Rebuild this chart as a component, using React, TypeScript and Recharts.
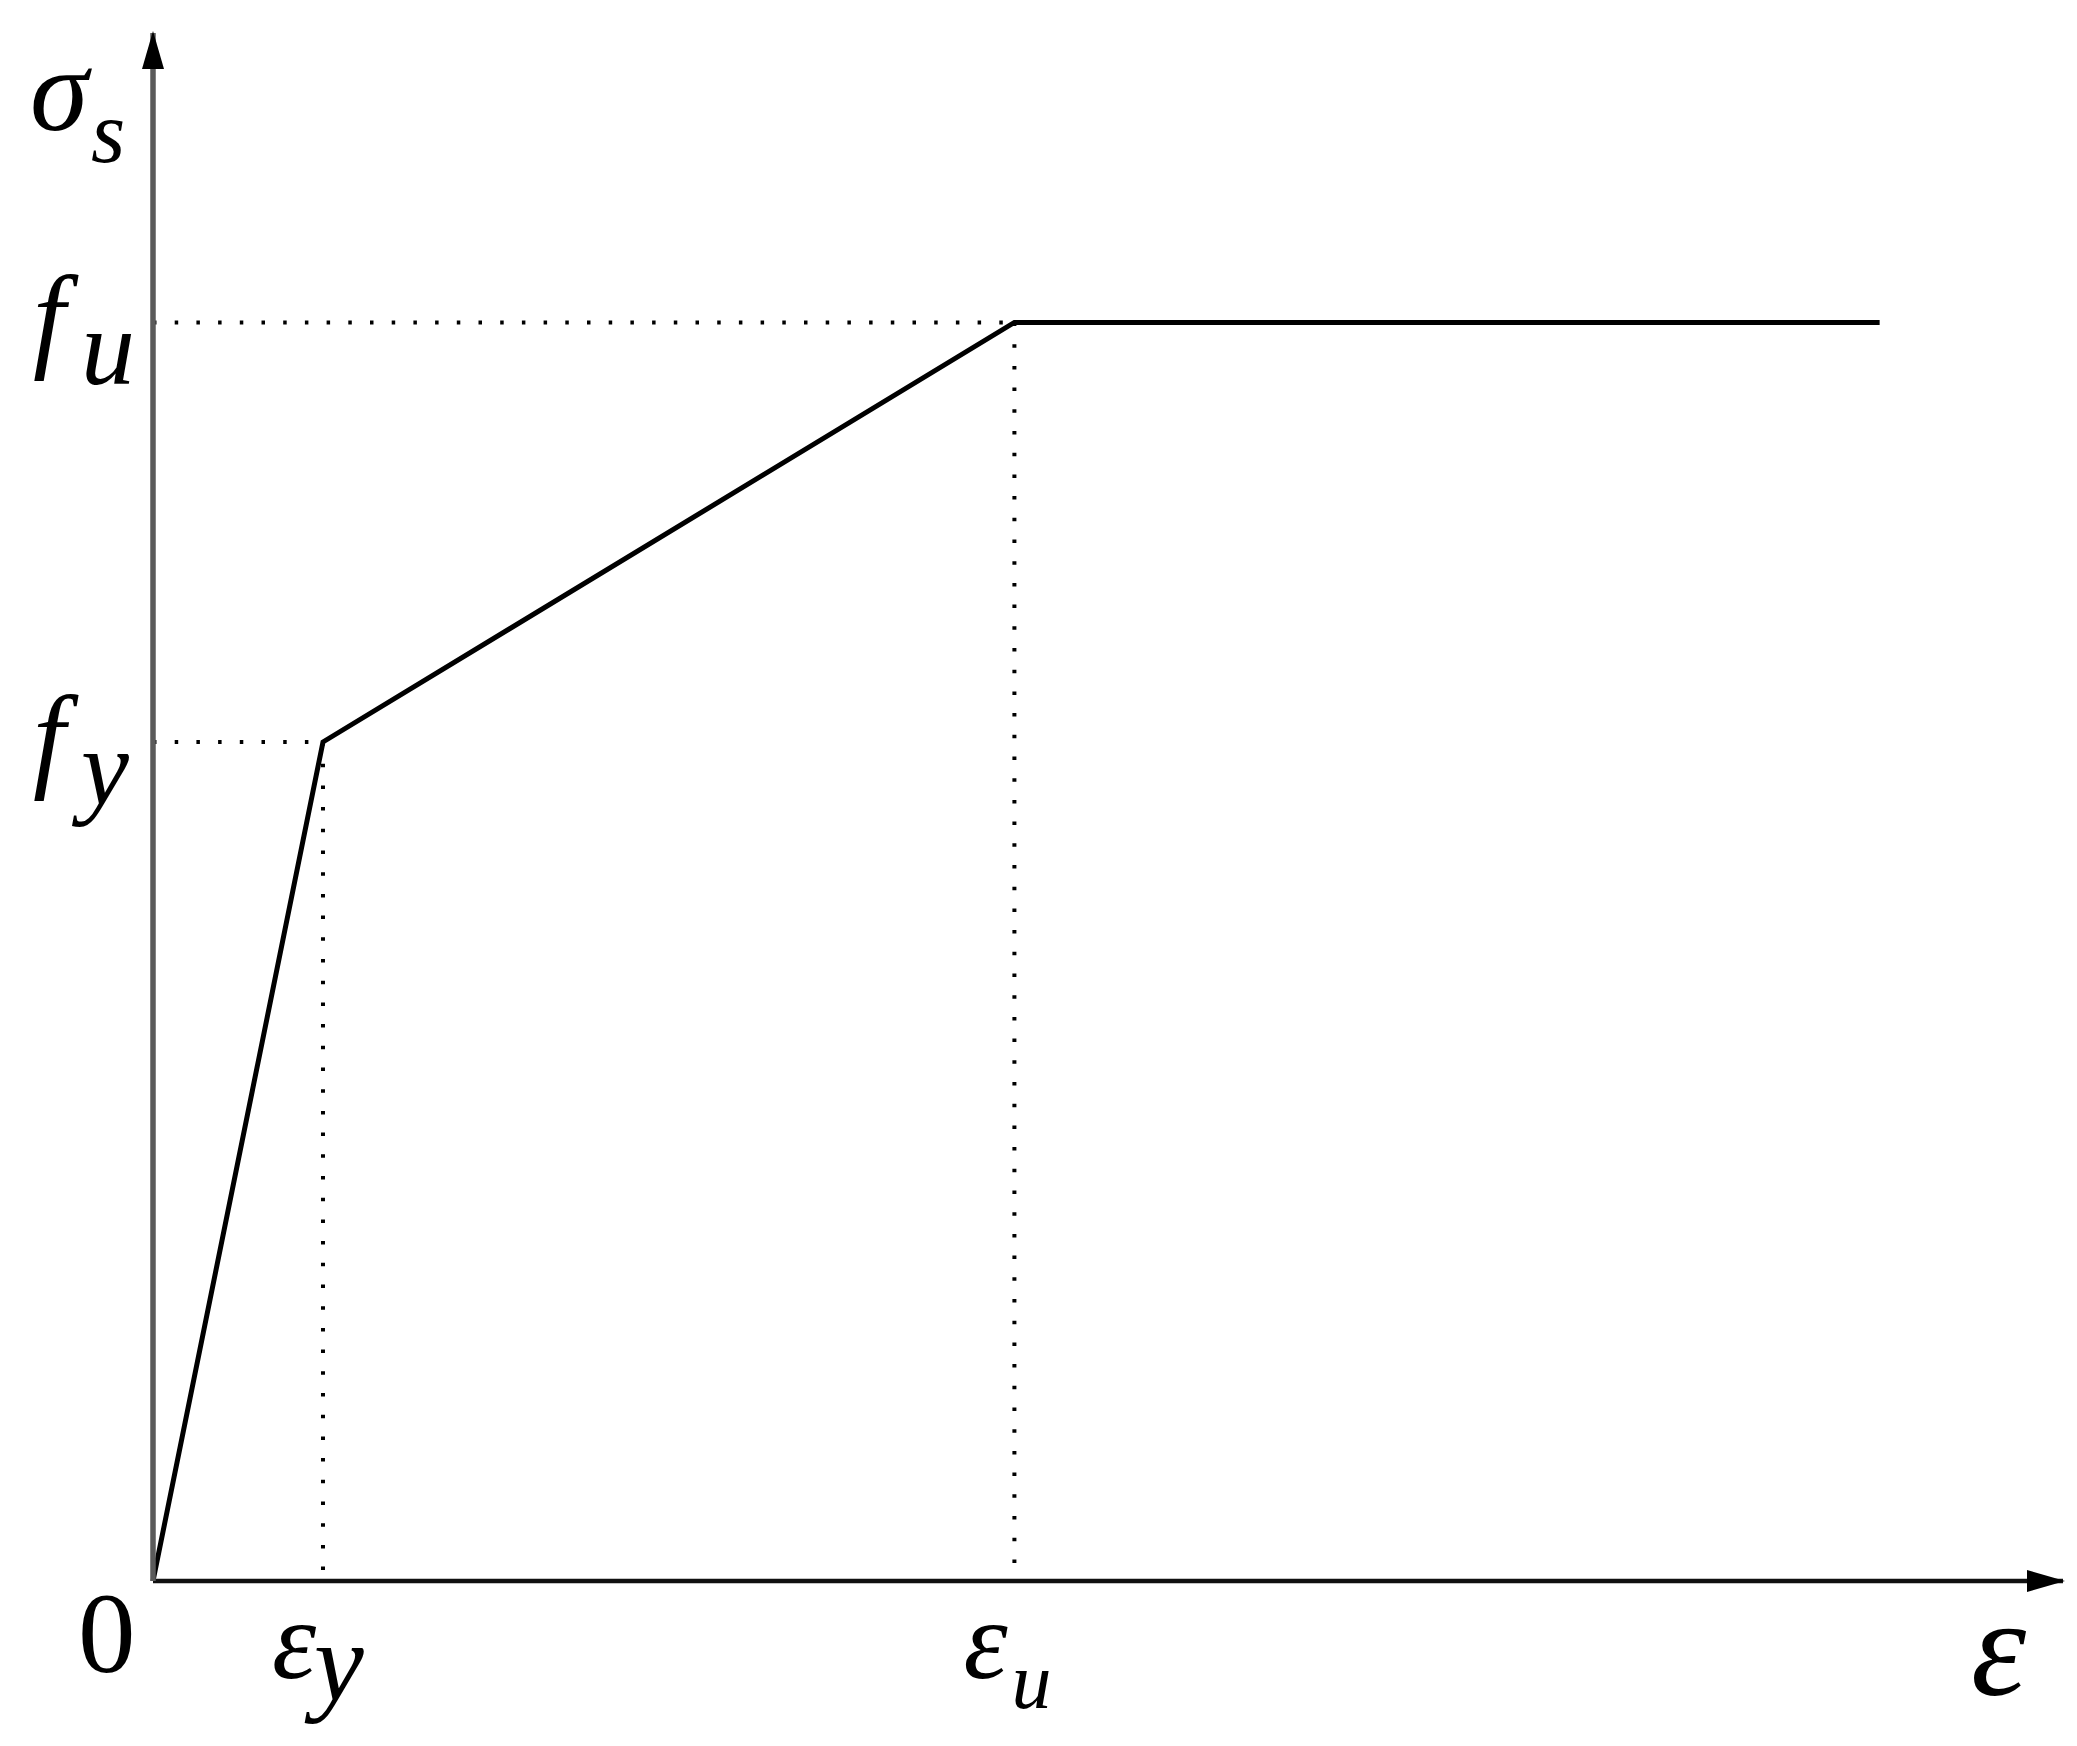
import { Label, Line, LineChart, ReferenceLine, XAxis, YAxis } from 'recharts';

// Schematic bilinear steel model, normalised units (0-100 on both axes)
const strain = [0, 8.9, 45.1, 90.4];
const stress = [0, 54.2, 81.3, 81.3];

const epsY = strain[1];
const epsU = strain[2];
const fY = stress[1];
const fU = stress[2];

const xTicks = [0, epsY, epsU];
const xTickMain = ['0', 'ε', 'ε'];
const xTickSub = ['', 'y', 'u'];

const yTicks = [fY, fU];
const yTickMain = ['f', 'f'];
const yTickSub = ['y', 'u'];

const chartData = strain.map((x, i) => ({ x, y: stress[i] }));

const serif = '"Liberation Serif", "DejaVu Serif", serif';
const dotted = { stroke: '#000', strokeWidth: 4, strokeDasharray: '3.5 18.2' };

function XTick({ x, y, index }: any) {
  if (index === 0) {
    return (
      <text x={x - 75} y={y + 91} fontFamily={serif} fontSize={115} fill="#000">
        {xTickMain[0]}
      </text>
    );
  }
  const big = index === 1;
  return (
    <text fontFamily={serif} fontStyle="italic" fill="#000">
      <tspan x={x - 51} y={y + 97} fontSize={112}>
        {xTickMain[index]}
      </tspan>
      <tspan x={big ? x - 9 : x - 3} y={big ? y + 119 : y + 127} fontSize={big ? 112 : 80}>
        {xTickSub[index]}
      </tspan>
    </text>
  );
}

function YTick({ x, y, index }: any) {
  return (
    <text fontFamily={serif} fontStyle="italic" fill="#000">
      <tspan x={x - 120} y={y + 34} fontSize={116}>
        {yTickMain[index]}
      </tspan>
      <tspan x={x - 72} y={y + 62} fontSize={108}>
        {yTickSub[index]}
      </tspan>
    </text>
  );
}

export default function App() {
  return (
    <div style={{ position: 'absolute', left: 0, top: 0, background: '#fff' }}>
      <LineChart
        width={2077}
        height={1746}
        data={chartData}
        margin={{ top: 33, right: 14, bottom: 0, left: 0 }}
      >
        <defs>
          <marker
            id="arrow"
            viewBox="0 0 38 22"
            refX={36}
            refY={11}
            markerWidth={38}
            markerHeight={22}
            markerUnits="userSpaceOnUse"
            orient="auto-start-reverse"
          >
            <path d="M0,0 L38,11 L0,22 Z" fill="#000" />
          </marker>
        </defs>
        <XAxis
          type="number"
          dataKey="x"
          domain={[0, 100]}
          ticks={xTicks}
          interval={0}
          height={165}
          tickSize={0}
          tickMargin={0}
          tickLine={false}
          axisLine={{ stroke: '#111', strokeWidth: 4.5, markerEnd: 'url(#arrow)' }}
          tick={<XTick />}
        >
          <Label
            content={({ viewBox }: any) => (
              <text
                x={viewBox.x + viewBox.width - 92}
                y={viewBox.y + 114}
                fontFamily={serif}
                fontStyle="italic"
                fontSize={140}
                fill="#000"
              >
                ε
              </text>
            )}
          />
        </XAxis>
        <YAxis
          type="number"
          dataKey="y"
          domain={[0, 100]}
          ticks={yTicks}
          interval={0}
          width={153}
          tickSize={0}
          tickMargin={0}
          tickLine={false}
          axisLine={{ stroke: '#5a5a5a', strokeWidth: 5.5, markerStart: 'url(#arrow)' }}
          tick={<YTick />}
        >
          <Label
            content={({ viewBox }: any) => (
              <text fontFamily={serif} fontStyle="italic" fill="#000">
                <tspan x={viewBox.x + 30} y={viewBox.y + 97} fontSize={118}>
                  σ
                </tspan>
                <tspan x={viewBox.x + 91} y={viewBox.y + 129} fontSize={88}>
                  s
                </tspan>
              </text>
            )}
          />
        </YAxis>
        <ReferenceLine segment={[{ x: 0, y: fU }, { x: epsU, y: fU }]} {...dotted} />
        <ReferenceLine segment={[{ x: epsU, y: fU }, { x: epsU, y: 0 }]} {...dotted} />
        <ReferenceLine segment={[{ x: 0, y: fY }, { x: epsY, y: fY }]} {...dotted} />
        <ReferenceLine segment={[{ x: epsY, y: fY }, { x: epsY, y: 0 }]} {...dotted} />
        <Line
          type="linear"
          dataKey="y"
          stroke="#000"
          strokeWidth={5}
          dot={false}
          activeDot={false}
          isAnimationActive={false}
        />
      </LineChart>
    </div>
  );
}
